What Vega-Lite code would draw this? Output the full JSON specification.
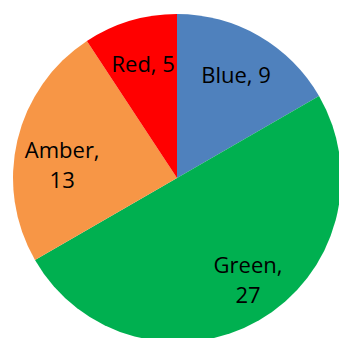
{
  "$schema": "https://vega.github.io/schema/vega-lite/v6.json",
  "width": 354,
  "height": 356,
  "padding": 0,
  "autosize": "none",
  "background": "white",
  "view": {"stroke": null},
  "data": {"values": [
    {"category": "Blue", "value": 9, "idx": 1, "label": "Blue, 9"},
    {"category": "Green", "value": 27, "idx": 2, "label": "Green,\n27"},
    {"category": "Amber", "value": 13, "idx": 3, "label": "Amber,\n13"},
    {"category": "Red", "value": 5, "idx": 4, "label": "Red, 5"}
  ]},
  "encoding": {
    "theta": {"field": "value", "type": "quantitative", "stack": true},
    "order": {"field": "idx", "type": "quantitative"}
  },
  "layer": [
    {
      "mark": {"type": "arc", "radius": 164},
      "encoding": {
        "color": {
          "field": "category", "type": "nominal",
          "scale": {"domain": ["Blue", "Green", "Amber", "Red"], "range": ["#4F81BD", "#00B050", "#F79646", "#FF0000"]},
          "legend": null
        }
      }
    },
    {
      "mark": {"type": "text", "radius": 118, "font": "Open Sans", "fontSize": 22, "lineHeight": 30, "lineBreak": "\n", "baseline": "middle"},
      "encoding": {
        "text": {"field": "label", "type": "nominal"},
        "color": {"value": "#000000"},
        "opacity": {"condition": {"test": "datum.category === 'Green'", "value": 0}, "value": 1}
      }
    },
    {
      "mark": {"type": "text", "radius": 118, "dx": 12, "dy": -14, "font": "Open Sans", "fontSize": 22, "lineHeight": 30, "lineBreak": "\n", "baseline": "middle"},
      "encoding": {
        "text": {"field": "label", "type": "nominal"},
        "color": {"value": "#000000"},
        "opacity": {"condition": {"test": "datum.category === 'Green'", "value": 1}, "value": 0}
      }
    }
  ]
}
